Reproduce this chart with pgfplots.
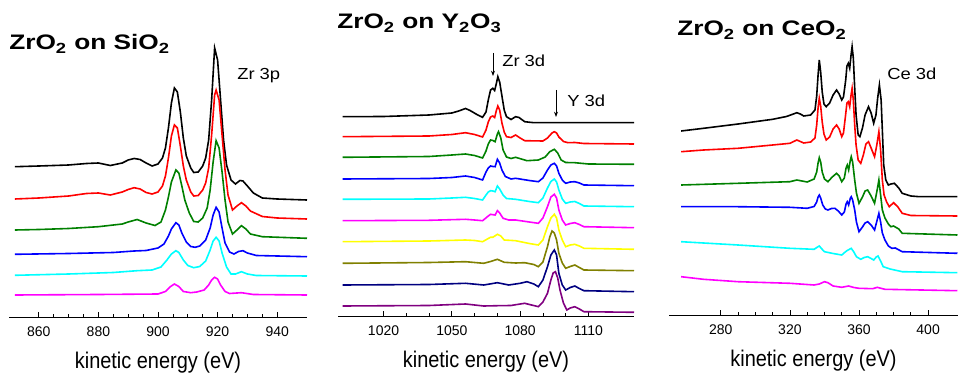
\documentclass[border=0pt]{standalone}
\usepackage{fontspec}
\setmainfont{Liberation Sans}
\usepackage{graphicx}
\usepackage{pgfplots}
\pgfplotsset{compat=1.18}
\usetikzlibrary{arrows.meta}
\definecolor{cblack}{RGB}{0,0,0}
\definecolor{cred}{RGB}{255,0,0}
\definecolor{cgreen}{RGB}{0,128,0}
\definecolor{cblue}{RGB}{0,0,255}
\definecolor{ccyan}{RGB}{0,255,255}
\definecolor{cmagenta}{RGB}{255,0,255}
\definecolor{cyellow}{RGB}{255,255,0}
\definecolor{colive}{RGB}{128,128,0}
\definecolor{cnavy}{RGB}{0,0,128}
\definecolor{cpurple}{RGB}{128,0,128}
\pgfplotsset{spec/.style={
  scale only axis, axis x line=bottom, axis y line=none,
  axis line style={-, line width=0.7pt},
  tick align=inside, major tick length=4pt, minor tick length=2.2pt,
  every tick/.style={black, line width=0.6pt},
  xticklabel style={font=\fontsize{10.5}{12}\selectfont, anchor=base, yshift=-14.25pt},
  /pgf/number format/assume math mode=true, /pgf/number format/1000 sep={},
  xlabel={\scalebox{0.88}[1]{kinetic energy (eV)}},
  xlabel style={font=\fontsize{17}{20}\selectfont, at={(axis description cs:0.5,0)}, anchor=base, yshift=-38.25pt},
  every axis plot/.append style={line width=1.2pt, no markers},
  ymax=-5, clip=false
}}
\begin{document}
\begin{tikzpicture}
\useasboundingbox (0,0) rectangle (718.5pt,-280.5pt);
% ---------------- Panel 1: ZrO2 on SiO2 ----------------
\begin{axis}[spec, at={(6.75pt,-237.75pt)}, anchor=south west,
  width=223.5pt, height=234pt, xmin=850, xmax=950, ymin=-317,
  xtick={860,880,900,920,940}, minor x tick num=3]
\addplot[cblack] coordinates {(852,-166.7)(860,-166)(870,-165)(876,-163.5)(880,-163)(884,-165.5)(888,-163)(890,-160)(892,-158.5)(894,-159.5)(896,-163)(898,-166)(900,-164)(901.5,-158)(902.5,-148)(903.5,-128)(904.5,-103)(905.5,-88)(906.5,-92)(907.5,-112)(908.5,-138)(909.5,-156)(911,-168)(912,-172.5)(913.5,-172)(915,-166)(916,-158)(917,-140)(918,-100)(919,-48)(920,-60)(921,-100)(922,-140)(923,-165)(924.5,-180)(926,-184)(927.5,-180.5)(928.5,-181)(930,-186)(932,-193)(935,-198)(940,-199)(950,-200)};
\addplot[cred] coordinates {(852,-199)(860,-198)(870,-196)(876,-193.5)(880,-193)(884,-195)(888,-192)(890,-189.5)(892,-187.7)(894,-189)(896,-192.5)(898,-194)(900,-192)(901.5,-186)(902.5,-176)(903.5,-158)(904.5,-136)(905.5,-125)(906.5,-128)(907.5,-146)(908.5,-166)(909.5,-180)(911,-192)(912,-196)(913.5,-195.5)(915,-190)(916,-183)(917,-168)(918,-135)(919,-95)(919.5,-90)(920.5,-100)(921.5,-135)(922.5,-170)(923.5,-195)(925,-210)(926.5,-206)(928,-202.7)(929.5,-206)(931,-211)(935,-216.5)(940,-218)(950,-219)};
\addplot[cgreen] coordinates {(852,-230)(860,-229.5)(870,-228.5)(880,-226.7)(888,-224)(890,-222)(893,-219.5)(896,-223)(899,-225.5)(901,-222)(902.5,-210)(903.5,-197)(904.5,-182)(906,-170)(907,-173)(908,-186)(909,-200)(910.5,-213)(912,-221.5)(913.5,-222)(915,-218)(916.5,-208)(917.5,-190)(918.5,-162)(919.5,-140.7)(920.5,-148)(921.5,-172)(922.5,-200)(923.5,-222)(925,-234)(926.5,-230)(928,-225.7)(929.5,-229)(931,-234)(935,-236.7)(950,-238.3)};
\addplot[cblue] coordinates {(852,-254.3)(870,-253.5)(885,-252.5)(892,-251)(896,-250.5)(900,-248)(902,-244)(903.5,-236)(904.5,-229)(906,-222.7)(907,-225)(908,-233)(909.5,-242)(911,-246.5)(912.5,-247.3)(914,-246)(916,-240)(917.5,-228)(918.5,-215)(919.5,-207.3)(920.5,-212)(921.5,-228)(922.5,-243)(924,-252)(925.5,-254)(927,-251.5)(928.5,-250.7)(930,-253)(933,-255.5)(950,-256.7)};
\addplot[ccyan] coordinates {(852,-275.3)(870,-274)(885,-272.5)(893,-270.7)(898,-270)(901,-267)(903,-260)(904.5,-254)(906,-250.7)(907,-252.5)(908.5,-260)(910,-265.5)(912,-267.7)(914,-266.5)(916,-261)(917.5,-250)(918.5,-241)(919.5,-237.3)(920.5,-241)(921.5,-253)(923,-267)(924.5,-274)(926,-274)(928,-271.7)(930,-274)(933,-275.5)(950,-276)};
\addplot[cmagenta] coordinates {(852,-295)(880,-294.5)(900,-294)(902.5,-291.5)(904,-287)(905.5,-284)(907,-286.5)(908.5,-291.5)(911,-292.7)(913,-292)(915.5,-290)(917,-285)(918,-280)(919,-277.3)(920,-279)(921,-285)(922.5,-291.5)(924,-293.5)(928,-292.7)(932,-294.5)(950,-295)};
\end{axis}
% ---------------- Panel 2: ZrO2 on Y2O3 ----------------
\begin{axis}[spec, at={(253.5pt,-237pt)}, anchor=south west,
  width=222pt, height=233.25pt, xmin=1000, xmax=1130, ymin=-316,
  xtick={1020,1050,1080,1110}, minor x tick num=2]
\addplot[cblack] coordinates {(1002,-116.7)(1020,-116.5)(1040,-115)(1050,-113)(1053,-111)(1056,-108.5)(1058,-110.5)(1061,-114.5)(1063.5,-117.3)(1065,-112)(1066,-100)(1067,-90)(1068,-88.3)(1068.8,-90.5)(1069.5,-84)(1070.2,-76.7)(1071,-82)(1072,-96)(1073,-110)(1074,-116.7)(1076,-119.5)(1078,-116.7)(1079.5,-117.5)(1082,-121.7)(1086,-122.7)(1130,-122.7)};
\addplot[cred] coordinates {(1002,-136.7)(1040,-136)(1050,-134.5)(1056,-132.7)(1060,-134.5)(1063.5,-137)(1065,-130)(1066,-122)(1067,-117)(1068,-116)(1068.8,-117.5)(1069.5,-111)(1070.2,-106)(1071,-110)(1072,-123)(1073,-132)(1074,-136.7)(1076,-137.5)(1078,-135)(1080,-138)(1082,-140.7)(1090,-141)(1092,-138)(1094,-133)(1095,-131.7)(1096,-133)(1097,-137)(1099,-141.5)(1101,-142.7)(1104,-142.5)(1108,-143.5)(1130,-144)};
\addplot[cgreen] coordinates {(1002,-157.3)(1040,-156.5)(1050,-155)(1056,-154)(1060,-155.5)(1063.5,-158)(1065,-151)(1066,-144)(1067,-140)(1068,-140.5)(1069,-141.7)(1070,-134)(1070.5,-131.7)(1071.5,-138)(1072.5,-150)(1074,-157)(1076,-158.5)(1078,-157.3)(1083,-160.7)(1088,-160)(1091,-157)(1093,-151.7)(1095,-149.3)(1096.5,-153)(1098,-160)(1100,-162.5)(1104,-162.7)(1110,-164)(1130,-164.3)};
\addplot[cblue] coordinates {(1002,-179)(1040,-178.5)(1050,-177.5)(1056,-176)(1060,-177.5)(1063.5,-180)(1065,-172)(1066,-168)(1067,-166)(1068,-166.5)(1069,-166.7)(1070,-159.3)(1071,-163)(1072,-170)(1073.5,-176.5)(1076,-179)(1078,-178.3)(1084,-180.5)(1088,-181.7)(1090,-178)(1092,-170)(1093.5,-165)(1095,-163.3)(1096,-166)(1097,-173.3)(1098.5,-180)(1100,-183.3)(1102,-182)(1104,-181.7)(1106,-183)(1108,-185)(1130,-185.7)};
\addplot[ccyan] coordinates {(1002,-199.3)(1040,-199)(1050,-198)(1056,-197.3)(1060,-198.5)(1063.5,-200)(1065,-195)(1066,-192)(1067,-190.7)(1068,-191)(1069,-191.7)(1070,-186)(1071,-189)(1072.5,-195)(1074,-198.5)(1078,-199.3)(1084,-201.5)(1088,-202.7)(1090,-198)(1092,-188)(1093.5,-181.5)(1095,-179)(1096,-182)(1097,-190)(1098.5,-199)(1100,-203.3)(1102,-202)(1104,-201.5)(1106,-203.5)(1108,-206)(1130,-206.7)};
\addplot[cmagenta] coordinates {(1002,-220.7)(1040,-220.3)(1056,-219.3)(1060,-220)(1063.5,-220.7)(1066,-216)(1067,-214.3)(1068,-214.7)(1069,-215)(1070,-210.7)(1071,-213)(1072.5,-218.3)(1075,-220)(1078,-220)(1084,-222)(1088,-223.3)(1090,-218)(1092,-206.7)(1093.5,-197)(1095,-194.3)(1096,-198)(1097,-210)(1098.5,-220)(1100,-225)(1102,-223.5)(1104,-222.7)(1106,-224.5)(1108,-226.7)(1130,-227.7)};
\addplot[cyellow] coordinates {(1002,-241.7)(1040,-241)(1056,-240)(1060,-240.5)(1063.5,-241.7)(1066,-238.5)(1067,-237.3)(1068,-237.3)(1070,-234.3)(1071.5,-236)(1073,-240)(1078,-240.7)(1084,-243.5)(1088,-245)(1090,-240)(1092,-226.7)(1093.5,-218)(1095,-214.3)(1096,-218)(1097,-230)(1098.5,-240)(1100,-246.7)(1102,-245)(1104,-244.3)(1106,-246)(1108,-248.3)(1130,-249.3)};
\addplot[colive] coordinates {(1002,-263.3)(1040,-262.5)(1056,-261.7)(1060,-262.5)(1064,-263.3)(1067,-261.5)(1070,-259.3)(1073,-262.3)(1078,-263)(1082,-262.7)(1086,-264.5)(1088,-266.7)(1090,-262)(1092,-246.7)(1093,-237)(1094,-231)(1095,-233)(1096,-240)(1097,-253.3)(1098.5,-263)(1100,-268.3)(1102,-266.5)(1104,-265)(1106,-267.5)(1108,-270)(1130,-270.7)};
\addplot[cnavy] coordinates {(1002,-285)(1040,-284.5)(1056,-283.3)(1064,-285)(1070,-282.7)(1075,-285)(1080,-283.3)(1083,-281.7)(1086,-284)(1088,-286.7)(1090,-280)(1092,-266.7)(1093.5,-255)(1095,-250)(1096,-255)(1097,-273.3)(1098.5,-285)(1100,-290)(1102,-287.5)(1104,-286)(1106,-288.5)(1108,-290.7)(1130,-291.7)};
\addplot[cpurple] coordinates {(1002,-306)(1040,-305.5)(1056,-304)(1064,-306)(1070,-305.7)(1076,-305.5)(1080,-304)(1082,-303.3)(1085,-305)(1088,-306.7)(1090,-302)(1092,-293.3)(1093.5,-280)(1094.5,-273)(1095.5,-271.7)(1096.5,-278)(1097.5,-290)(1099,-303)(1100.5,-310)(1102,-308)(1104,-306.7)(1106,-309)(1108,-311.7)(1130,-312.3)};
\end{axis}
% ---------------- Panel 3: ZrO2 on CeO2 ----------------
\begin{axis}[spec, at={(501.75pt,-236.25pt)}, anchor=south west,
  width=216.75pt, height=232.5pt, xmin=250, xmax=417.3, ymin=-315,
  xtick={280,320,360,400}, minor x tick num=3]
\addplot[cblack] coordinates {(257,-131)(270,-128.3)(290,-124)(310,-119.3)(318,-116.5)(322,-114)(324,-112.7)(326,-114)(328,-116)(332,-115)(334.5,-110)(335.5,-96)(336.3,-75)(337,-60)(337.8,-72)(338.7,-92)(339.7,-104)(341,-106.7)(343,-103)(345,-95)(347,-90)(348.5,-94)(350,-100)(351,-97)(352.3,-80)(353,-66)(353.8,-63.3)(354.6,-68.3)(355.4,-55)(356,-46.7)(356.7,-58)(357.5,-88)(358.3,-115)(359.5,-135)(360.5,-136.7)(362,-128)(363.5,-115)(365.5,-106.7)(367,-113)(368.5,-123.3)(369.8,-115)(370.8,-98)(371.8,-85)(372.8,-100)(373.5,-130)(374.3,-165)(375.5,-180)(377,-185)(378.5,-184)(380.5,-183.3)(383,-188)(385,-193.3)(390,-196)(395,-196.7)(417,-196.7)};
\addplot[cred] coordinates {(257,-151.7)(270,-150)(290,-148.3)(310,-145)(320,-143.3)(324,-140)(328,-143)(332,-142)(334.5,-138)(335.5,-125)(336.3,-108)(337,-98.3)(337.8,-106)(338.7,-122)(339.7,-134)(341,-140)(343,-137)(345,-129)(347,-125)(348.5,-129)(350,-136.7)(351,-133)(352.3,-114)(353,-103)(353.8,-101.7)(354.6,-106.7)(355.4,-95)(356,-88.3)(356.7,-100)(357.5,-125)(358.3,-145)(359.5,-160)(361,-163.3)(362.5,-155)(364,-144)(365.5,-141.7)(367,-148)(369,-156.7)(370.3,-145)(371.5,-131.7)(372.5,-150)(373.5,-180)(374.5,-195)(376,-202)(377.5,-206.7)(380,-202.7)(382.5,-207)(385,-213.3)(390,-215.5)(417,-216)};
\addplot[cgreen] coordinates {(257,-185)(290,-183.3)(320,-181.7)(324,-180)(330,-182)(334,-179)(335.5,-172)(336.3,-163)(337,-157.7)(337.8,-162)(338.7,-172)(340,-179)(342,-181.7)(344.5,-177)(347,-173.3)(348.5,-176)(350,-181.7)(351.5,-178)(352.5,-168)(353.2,-165)(354,-170)(355,-160)(355.5,-156.7)(356.3,-162)(357.5,-180)(358.5,-193)(360,-203.3)(362,-197)(363.5,-191)(365,-190)(367,-196)(369,-203.3)(370.5,-190)(371.5,-180)(372.5,-195)(373.5,-210)(375,-218)(377,-224)(378.5,-226.7)(380,-226)(383,-229)(385,-233.3)(417,-235)};
\addplot[cblue] coordinates {(257,-206.7)(290,-206.7)(320,-207.3)(330,-208.3)(334,-206.5)(335.5,-202)(336.3,-197)(337,-195)(337.8,-198)(339,-205)(340.5,-209)(342,-210)(344,-208.5)(346,-208.3)(348,-211)(350,-215)(351.5,-212)(352.5,-204)(353.2,-201.7)(354,-205)(355,-198)(355.5,-196.7)(356.3,-200)(357.5,-210)(358.5,-222)(360,-231.7)(362,-227)(363.5,-223)(365,-221.7)(367,-225)(369,-230)(370.5,-220)(371.5,-213.3)(372.5,-222)(373.5,-233)(375,-240)(377,-246)(379,-248.3)(381,-248)(385,-251.7)(417,-253.3)};
\addplot[ccyan] coordinates {(257,-241.7)(270,-243)(290,-245)(320,-248.3)(334,-249.3)(336,-247)(337,-246)(338.5,-249)(340,-251.7)(345,-253.5)(350,-255)(352,-252)(353,-250.7)(355.5,-248.3)(357,-252)(358.5,-256.7)(361,-259.3)(363,-257.5)(365,-256.7)(367,-258.5)(368.5,-260)(370,-257)(371,-256)(372.5,-261)(374,-266.7)(378,-269)(385,-271.7)(417,-272.7)};
\addplot[cmagenta] coordinates {(257,-276.7)(270,-279.3)(290,-281.7)(320,-283.3)(334,-285)(337,-284)(340,-281.7)(342,-282.7)(345,-286)(350,-287.3)(354,-286)(357,-287.5)(360,-288.3)(368,-288.7)(370.5,-287.3)(372,-288)(375,-289.3)(417,-290.7)};
\end{axis}
% ---------------- Titles and annotations ----------------
\node[anchor=base west, inner sep=0, font=\fontsize{15.75}{18}\selectfont\bfseries] at (6.75pt,-37.5pt) {\scalebox{1.25}[1]{ZrO\textsubscript{2} on SiO\textsubscript{2}}};
\node[anchor=base west, inner sep=0, font=\fontsize{15.75}{18}\selectfont\bfseries] at (252.75pt,-21.75pt) {\scalebox{1.25}[1]{ZrO\textsubscript{2} on Y\textsubscript{2}O\textsubscript{3}}};
\node[anchor=base west, inner sep=0, font=\fontsize{15.75}{18}\selectfont\bfseries] at (507.75pt,-27pt) {\scalebox{1.25}[1]{ZrO\textsubscript{2} on CeO\textsubscript{2}}};
\node[anchor=base west, inner sep=0, font=\fontsize{12}{14}\selectfont] at (177.75pt,-60pt) {\scalebox{1.15}[1]{Zr 3p}};
\node[anchor=base west, inner sep=0, font=\fontsize{12}{14}\selectfont] at (376.5pt,-50.25pt) {\scalebox{1.15}[1]{Zr 3d}};
\node[anchor=base west, inner sep=0, font=\fontsize{12}{14}\selectfont] at (425.25pt,-80.25pt) {\scalebox{1.15}[1]{Y 3d}};
\node[anchor=base west, inner sep=0, font=\fontsize{12}{14}\selectfont] at (665.25pt,-60pt) {\scalebox{1.15}[1]{Ce 3d}};
\draw[-{Stealth[length=4pt,width=3pt]}, line width=0.6pt] (369.75pt,-39.75pt) -- (369.75pt,-57pt);
\draw[-{Stealth[length=4pt,width=3pt]}, line width=0.6pt] (417pt,-67.5pt) -- (417pt,-87.75pt);
\end{tikzpicture}
\end{document}
